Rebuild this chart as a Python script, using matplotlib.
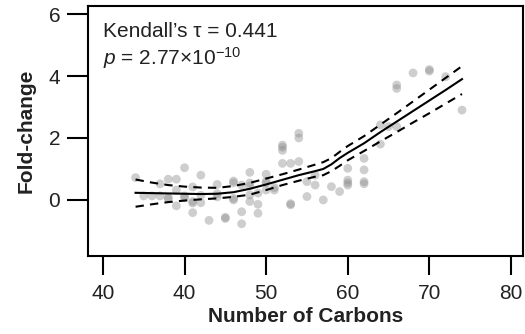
import matplotlib
matplotlib.use('Agg')
import matplotlib.pyplot as plt

plt.rcParams['font.family'] = ['Liberation Sans', 'DejaVu Sans']
plt.rcParams['mathtext.fontset'] = 'custom'
plt.rcParams['mathtext.rm'] = 'Liberation Sans'
plt.rcParams['mathtext.it'] = 'Liberation Sans:italic'

# scatter points (number of carbons, fold-change)
carbons = [34, 35, 36, 37, 37, 38, 38, 38, 39, 39, 39, 40, 40, 40,
           41, 41, 41, 41, 42, 42, 42, 43, 44, 44, 44, 45, 45,
           46, 46, 46, 46, 47, 47, 47, 48, 48, 48, 48, 48,
           49, 49, 49, 50, 50, 50, 50, 51, 51,
           52, 52, 52, 52, 53, 53, 53, 54, 54, 54, 55, 55, 56, 56,
           57, 58, 59, 60, 60, 60, 60, 62, 62, 62, 62,
           64, 64, 65, 66, 66, 66, 68, 70, 70, 72, 74]
fold = [0.72, 0.13, 0.13, 0.52, 0.13, 0.67, 0.05, 0.07, 0.67, 0.32, -0.19, 1.04, 0.13, 0.07,
        0.42, -0.05, -0.41, -0.10, 0.80, 0.15, -0.09, -0.66, 0.50, 0.20, 0.10, -0.56, -0.60,
        0.61, 0.55, 0.05, 0.00, 0.48, -0.38, -0.77, 0.89, 0.55, 0.16, -0.05, 0.45,
        0.22, -0.14, -0.43, 0.83, 0.60, 0.55, 0.32, 0.32, 0.40,
        1.77, 1.70, 1.60, 1.18, 1.18, -0.16, -0.12, 2.15, 2.00, 1.24, 0.59, 0.11, 0.48, 0.80,
        0.00, 0.43, 0.27, 1.02, 0.64, 0.55, 0.48, 1.34, 0.97, 0.59, 0.52,
        2.42, 1.80, 2.37, 2.37, 3.71, 3.60, 4.10, 4.21, 4.16, 3.98, 2.90]

# smoothed fit and confidence band
fit_x = [34, 36, 38, 40, 42, 44, 46, 48, 50, 52, 54, 56, 57, 58, 59, 60, 62, 64, 66, 68, 70, 72, 74]
fit_mid = [0.23, 0.22, 0.21, 0.20, 0.19, 0.20, 0.25, 0.36, 0.50, 0.65, 0.80, 0.93, 1.00, 1.15, 1.35,
           1.52, 1.83, 2.19, 2.53, 2.87, 3.21, 3.55, 3.90]
fit_hi = [0.66, 0.56, 0.48, 0.43, 0.40, 0.39, 0.45, 0.55, 0.69, 0.83, 0.98, 1.14, 1.22, 1.35, 1.55,
          1.74, 2.06, 2.43, 2.80, 3.18, 3.56, 3.94, 4.32]
fit_lo = [-0.22, -0.14, -0.07, -0.02, 0.02, 0.05, 0.10, 0.17, 0.32, 0.48, 0.62, 0.75, 0.80, 0.93, 1.10,
          1.28, 1.58, 1.89, 2.19, 2.50, 2.80, 3.11, 3.42]

xticks = [30, 40, 50, 60, 70, 80]
xticklabels = ['40', '40', '50', '60', '70', '80']
yticks = [0, 2, 4, 6]

fig = plt.figure(figsize=(5.25, 3.34), dpi=100)
ax = fig.add_axes([0.1676, 0.2335, 0.829, 0.7485])

ax.scatter(carbons, fold, s=40, color='#8c8c8c', alpha=0.42, edgecolors='none', zorder=1)
ax.plot(fit_x, fit_mid, color='black', lw=1.5, zorder=3)
ax.plot(fit_x, fit_hi, color='black', lw=1.5, ls=(0, (4, 3)), zorder=3)
ax.plot(fit_x, fit_lo, color='black', lw=1.5, ls=(0, (4, 3)), zorder=3)

ax.set_xlim(28.17, 81.5)
ax.set_ylim(-1.81, 6.26)
ax.set_xticks(xticks)
ax.set_xticklabels(xticklabels)
ax.set_yticks(yticks)

for sp in ax.spines.values():
    sp.set_linewidth(1.5)
ax.tick_params(axis='both', labelsize=15, width=1.5, color='black', labelcolor='#222222')
ax.tick_params(axis='x', pad=6, length=14)
ax.tick_params(axis='y', pad=5, length=15)

ax.set_xlabel('Number of Carbons', fontsize=15, fontweight='bold', labelpad=3, color='#222222')
ax.set_ylabel('Fold-change', fontsize=15, fontweight='bold', labelpad=9, color='#222222')

ax.text(0.0345, 0.876, "Kendall\u2019s \u03c4 = 0.441", transform=ax.transAxes,
        fontsize=15, color='#222222', va='baseline')
ax.text(0.0345, 0.764, "$p$ = 2.77\u00d710$^{\\mathrm{-10}}$", transform=ax.transAxes,
        fontsize=15, color='#222222', va='baseline')

fig.savefig('out.png', dpi=100)
